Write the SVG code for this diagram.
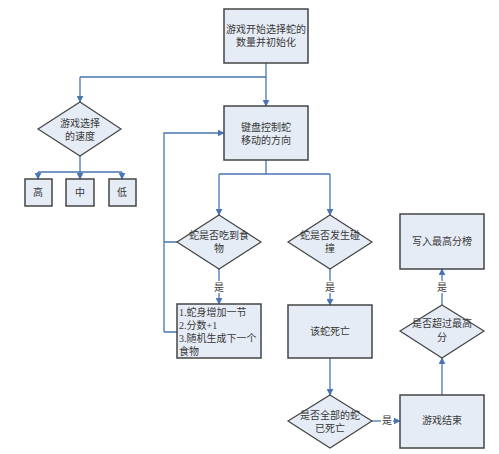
<svg xmlns="http://www.w3.org/2000/svg" width="499" height="454" viewBox="0 0 499 454">
<defs>
<marker id="ah" viewBox="0 0 10 10" refX="9" refY="5" markerWidth="7" markerHeight="7" orient="auto" markerUnits="userSpaceOnUse">
<path d="M0,0 L10,5 L0,10 z" fill="#4a76b4"/>
</marker>
<style>
.box{fill:#e6ecf6;stroke:#444;stroke-width:1.5}
.dia{fill:#e6ecf6;stroke:#444;stroke-width:1.2}
.ln{fill:none;stroke:#4a76b4;stroke-width:1.3}
.ar{fill:none;stroke:#4a76b4;stroke-width:1.3;marker-end:url(#ah)}
text{font-family:"Liberation Serif","Noto Sans CJK SC",serif;font-size:10px;fill:#383838;text-anchor:middle}
.lt{text-anchor:start}
.lbl{fill:#383838}
</style>
</defs>
<rect width="499" height="454" fill="#fff"/>
<g id="connectors">
<path class="ln" d="M266,63 V77 H80"/>
<path class="ar" d="M266,77 V106"/>
<path class="ar" d="M80,77 V102"/>
<path class="ln" d="M80,156 V172 M38,172 H122"/>
<path class="ar" d="M38,172 V179"/>
<path class="ar" d="M80,172 V179"/>
<path class="ar" d="M122,172 V179"/>
<path class="ln" d="M266,160 V174 M219,174 H330"/>
<path class="ar" d="M219,174 V215"/>
<path class="ar" d="M330,174 V215"/>
<path class="ln" d="M177,242 H164 M177,332 H164"/>
<path class="ar" d="M164,332 V133 H224"/>
<path class="ln" d="M219,269 V281"/>
<path class="ar" d="M219,293 V304"/>
<path class="ln" d="M330,269 V281"/>
<path class="ar" d="M330,293 V305"/>
<path class="ar" d="M330,358 V395"/>
<path class="ln" d="M372,421 H381"/>
<path class="ar" d="M393,421 H400"/>
<path class="ar" d="M442,395 V358"/>
<path class="ln" d="M442,305 V293"/>
<path class="ar" d="M442,281 V269"/>
<text x="219" y="291" class="lbl">是</text>
<text x="330" y="291" class="lbl">是</text>
<text x="387" y="424" class="lbl">是</text>
<text x="442" y="291" class="lbl">是</text>
</g>
<g id="n_start">
<rect class="box" x="224" y="9" width="84" height="54"/>
<text x="266" y="33">游戏开始选择蛇的</text>
<text x="266" y="46">数量并初始化</text>
</g>
<g id="n_speed">
<path class="dia" d="M80,102 L121,129 L80,156 L38,129 z"/>
<text x="80" y="127">游戏选择</text>
<text x="80" y="140">的速度</text>
</g>
<g id="n_high">
<rect class="box" x="25" y="179" width="27" height="27"/>
<text x="38" y="196">高</text>
</g>
<g id="n_mid">
<rect class="box" x="66" y="179" width="28" height="27"/>
<text x="80" y="196">中</text>
</g>
<g id="n_low">
<rect class="box" x="109" y="179" width="27" height="27"/>
<text x="122" y="196">低</text>
</g>
<g id="n_key">
<rect class="box" x="224" y="106" width="84" height="54"/>
<text x="266" y="131">键盘控制蛇</text>
<text x="266" y="144">移动的方向</text>
</g>
<g id="n_eat">
<path class="dia" d="M219,215 L261,242 L219,269 L177,242 z"/>
<text x="219" y="239">蛇是否吃到食</text>
<text x="219" y="252">物</text>
</g>
<g id="n_grow">
<rect class="box" x="177" y="304" width="84" height="54"/>
<text x="179" y="316" class="lt">1.蛇身增加一节</text>
<text x="179" y="329" class="lt">2.分数+1</text>
<text x="179" y="342" class="lt">3.随机生成下一个</text>
<text x="179" y="355" class="lt">食物</text>
</g>
<g id="n_hit">
<path class="dia" d="M330,215 L372,242 L330,269 L288,242 z"/>
<text x="330" y="239">蛇是否发生碰</text>
<text x="330" y="252">撞</text>
</g>
<g id="n_die">
<rect class="box" x="288" y="305" width="84" height="53"/>
<text x="330" y="335">该蛇死亡</text>
</g>
<g id="n_all">
<path class="dia" d="M330,395 L372,421 L330,448 L288,421 z"/>
<text x="330" y="419">是否全部的蛇</text>
<text x="330" y="432">已死亡</text>
</g>
<g id="n_end">
<rect class="box" x="400" y="395" width="84" height="53"/>
<text x="442" y="424">游戏结束</text>
</g>
<g id="n_exceed">
<path class="dia" d="M442,305 L484,331 L442,358 L400,331 z"/>
<text x="442" y="327">是否超过最高</text>
<text x="442" y="341">分</text>
</g>
<g id="n_write">
<rect class="box" x="400" y="214" width="84" height="55"/>
<text x="442" y="245">写入最高分榜</text>
</g>
</svg>
